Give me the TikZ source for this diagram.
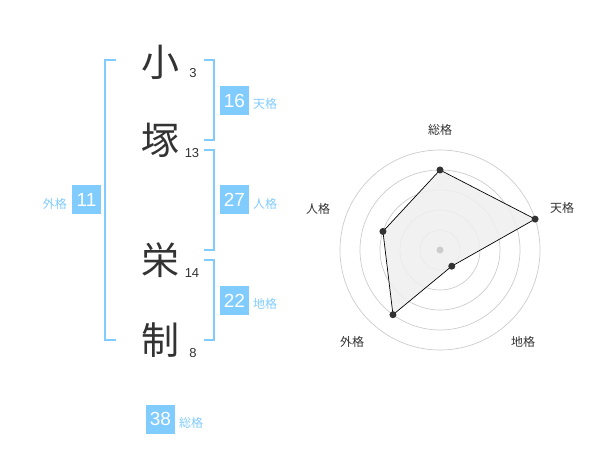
\documentclass[tikz,border=0pt]{standalone}
\usepackage{fontspec}
\setmainfont{Liberation Sans}
\newfontfamily\jp{Noto Sans CJK JP}
\definecolor{kblue}{HTML}{80CCFF}
\definecolor{ktext}{HTML}{333333}
\definecolor{kgrid}{HTML}{CCCCCC}
\definecolor{kfill}{HTML}{EFEFEF}
\tikzset{
  bigchar/.style={font=\jp\fontsize{38}{40}\selectfont, text=ktext, inner sep=0pt},
  strokes/.style={font=\fontsize{13}{14}\selectfont, text=ktext, inner sep=0pt},
  valbox/.style={fill=kblue, text=white, minimum width=29pt, minimum height=29pt, inner sep=0pt, font=\fontsize{19}{20}\selectfont},
  kaku/.style={font=\jp\fontsize{12}{13}\selectfont, text=kblue, inner sep=0pt},
  bracket/.style={draw=kblue, line width=1.6pt},
  grid/.style={draw=kgrid, line width=0.7pt},
  rlabel/.style={font=\jp\fontsize{12}{13}\selectfont, text=ktext, inner sep=0pt},
  dot/.style={circle, fill=ktext, inner sep=0pt, minimum size=7pt}
}
\begin{document}
\begin{tikzpicture}[x=1pt,y=-1pt]
\useasboundingbox (0,0) rectangle (600,470);
% characters
\node[bigchar] (c1) at (160,62) {小};
\node[bigchar] (c2) at (160,140) {塚};
\node[bigchar] (c3) at (160,260) {栄};
\node[bigchar] (c4) at (160,340) {制};
\node[strokes] (n1) at (193,73) {3};
\node[strokes] (n2) at (192,153) {13};
\node[strokes] (n3) at (192,273) {14};
\node[strokes] (n4) at (193,353) {8};
% brackets
\draw[bracket] (116,60) -- (105,60) -- (105,340) -- (116,340);
\draw[bracket] (204,60) -- (214,60) -- (214,140) -- (204,140);
\draw[bracket] (204,150) -- (214,150) -- (214,250) -- (204,250);
\draw[bracket] (204,260) -- (214,260) -- (214,340) -- (204,340);
% value boxes
\node[valbox] (ten) at (234.5,100.5) {16};
\node[kaku, anchor=west] (tenl) at (253,104) {天格};
\node[valbox] (jin) at (234.5,200) {27};
\node[kaku, anchor=west] (jinl) at (253,204) {人格};
\node[valbox] (chi) at (234.5,301) {22};
\node[kaku, anchor=west] (chil) at (253,304) {地格};
\node[valbox] (gai) at (86.5,200) {11};
\node[kaku, anchor=east] (gail) at (67,204) {外格};
\node[valbox] (sou) at (160.5,419) {38};
\node[kaku, anchor=west] (soul) at (179,423) {総格};
% radar
\begin{scope}[shift={(440,250)}, y=1pt]
  \foreach \r in {20,40,60,80,100} \draw[grid] (0,0) circle (\r);
  \coordinate (pS) at (90:80);
  \coordinate (pT) at (18:100);
  \coordinate (pC) at (-54:20);
  \coordinate (pG) at (-126:80);
  \coordinate (pJ) at (162:60);
  \fill[kfill, fill opacity=0.85] (pS) -- (pT) -- (pC) -- (pG) -- (pJ) -- cycle;
  \draw[black, line width=0.7pt] (pS) -- (pT) -- (pC) -- (pG) -- (pJ) -- cycle;
  \fill[kgrid] (0,0) circle (3.5);
  \foreach \p in {pS,pT,pC,pG,pJ} \node[dot] at (\p) {};
  \node[rlabel] (lS) at (0,120) {総格};
  \node[rlabel] (lT) at (122,42) {天格};
  \node[rlabel] (lC) at (83,-92) {地格};
  \node[rlabel] (lG) at (-88,-92) {外格};
  \node[rlabel] (lJ) at (-122,41) {人格};
\end{scope}
\end{tikzpicture}
\end{document}
